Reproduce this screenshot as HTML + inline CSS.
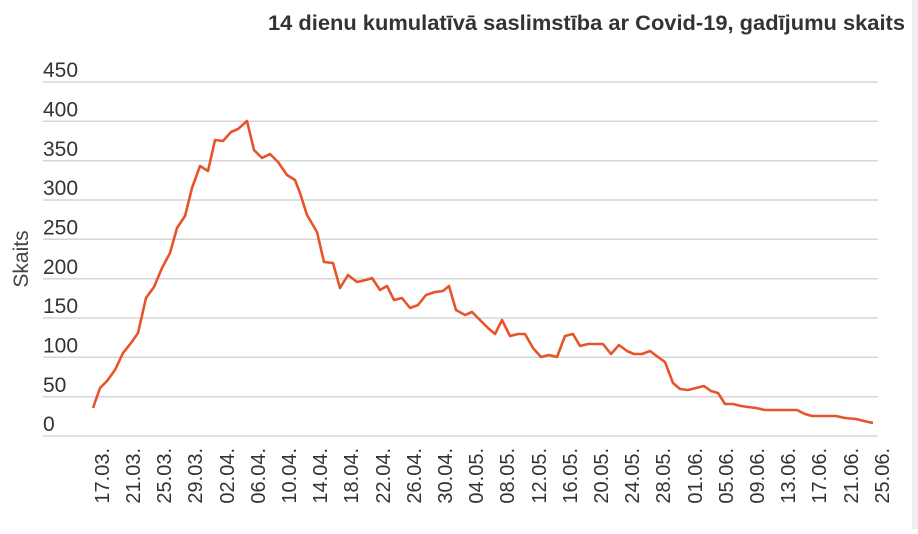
<!DOCTYPE html>
<html><head><meta charset="utf-8"><style>
body{margin:0;background:#fff;width:918px;height:529px;overflow:hidden;font-family:"Liberation Sans",sans-serif}
</style></head><body>
<svg width="918" height="529" xmlns="http://www.w3.org/2000/svg" font-family="Liberation Sans, sans-serif">
<rect x="0" y="0" width="918" height="529" fill="#fff"/>
<rect x="912" y="0" width="6" height="529" fill="#eee"/>
<text x="268" y="30" textLength="637" lengthAdjust="spacingAndGlyphs" font-size="21" font-weight="bold" fill="#333">14 dienu kumulatīvā saslimstība ar Covid-19, gadījumu skaits</text>
<g stroke="#d6d6d6" stroke-width="1.5">
<line x1="43" x2="878" y1="82" y2="82"/><line x1="43" x2="878" y1="121.3" y2="121.3"/>
<line x1="43" x2="878" y1="160.7" y2="160.7"/><line x1="43" x2="878" y1="200" y2="200"/>
<line x1="43" x2="878" y1="239.3" y2="239.3"/><line x1="43" x2="878" y1="278.7" y2="278.7"/>
<line x1="43" x2="878" y1="318" y2="318"/><line x1="43" x2="878" y1="357.3" y2="357.3"/>
<line x1="43" x2="878" y1="396.7" y2="396.7"/><line x1="43" x2="878" y1="436" y2="436"/>
</g>
<g font-size="21" fill="#333">
<text x="43" y="77">450</text><text x="43" y="116.5">400</text><text x="43" y="156">350</text>
<text x="43" y="195">300</text><text x="43" y="234.5">250</text><text x="43" y="274">200</text>
<text x="43" y="313">150</text><text x="43" y="352.5">100</text><text x="43" y="392">50</text>
<text x="43" y="431">0</text>
</g>
<text transform="translate(28,259) rotate(-90)" text-anchor="middle" font-size="21" fill="#444">Skaits</text>
<g font-size="20" fill="#333" text-anchor="end">
<text transform="translate(109,448) rotate(-90)">17.03.</text>
<text transform="translate(140,448) rotate(-90)">21.03.</text>
<text transform="translate(171,448) rotate(-90)">25.03.</text>
<text transform="translate(202,448) rotate(-90)">29.03.</text>
<text transform="translate(234,448) rotate(-90)">02.04.</text>
<text transform="translate(265,448) rotate(-90)">06.04.</text>
<text transform="translate(296,448) rotate(-90)">10.04.</text>
<text transform="translate(327,448) rotate(-90)">14.04.</text>
<text transform="translate(358,448) rotate(-90)">18.04.</text>
<text transform="translate(390,448) rotate(-90)">22.04.</text>
<text transform="translate(421,448) rotate(-90)">26.04.</text>
<text transform="translate(452,448) rotate(-90)">30.04.</text>
<text transform="translate(483,448) rotate(-90)">04.05.</text>
<text transform="translate(514,448) rotate(-90)">08.05.</text>
<text transform="translate(546,448) rotate(-90)">12.05.</text>
<text transform="translate(577,448) rotate(-90)">16.05.</text>
<text transform="translate(608,448) rotate(-90)">20.05.</text>
<text transform="translate(639,448) rotate(-90)">24.05.</text>
<text transform="translate(670,448) rotate(-90)">28.05.</text>
<text transform="translate(702,448) rotate(-90)">01.06.</text>
<text transform="translate(733,448) rotate(-90)">05.06.</text>
<text transform="translate(764,448) rotate(-90)">09.06.</text>
<text transform="translate(795,448) rotate(-90)">13.06.</text>
<text transform="translate(826,448) rotate(-90)">17.06.</text>
<text transform="translate(858,448) rotate(-90)">21.06.</text>
<text transform="translate(889,448) rotate(-90)">25.06.</text>
</g>
<polyline fill="none" stroke="#e8542a" stroke-width="2.6" stroke-linejoin="round" points="93,408 100,388 107,381 115,370 123,353 131,343 138,333 146,298 154,287 162,268 170,253 177,228 185,216 192,188 200,166 208,171 215,140 223,141 231,132 238,129 247,121 254,150 262,158 270,154 278,162 287,175 295,180 300,193 307,215 317,232 324,262 333,263 340,288 348,275 357,282 366,280 372,278 380,290 387,286 394,300 402,298 410,308 418,305 426,295 435,292 443,291 449,286 456,310 465,315 472,312 480,320 488,328 495,334 502,320 510,336 518,334 525,334 533,348 541,357 549,355 557,357 565,336 573,334 580,346 588,344 596,344 603,344 611,354 619,345 627,351 634,354 642,354 650,351 658,357 665,362 673,383 680,389 688,390 696,388 704,386 711,391 718,393 725,404 733,404 741,406 748,407 756,408 765,410 773,410 790,410 797,410 805,414 812,416 820,416 836,416 845,418 856,419 864,421 873,423"/>
</svg>
</body></html>
